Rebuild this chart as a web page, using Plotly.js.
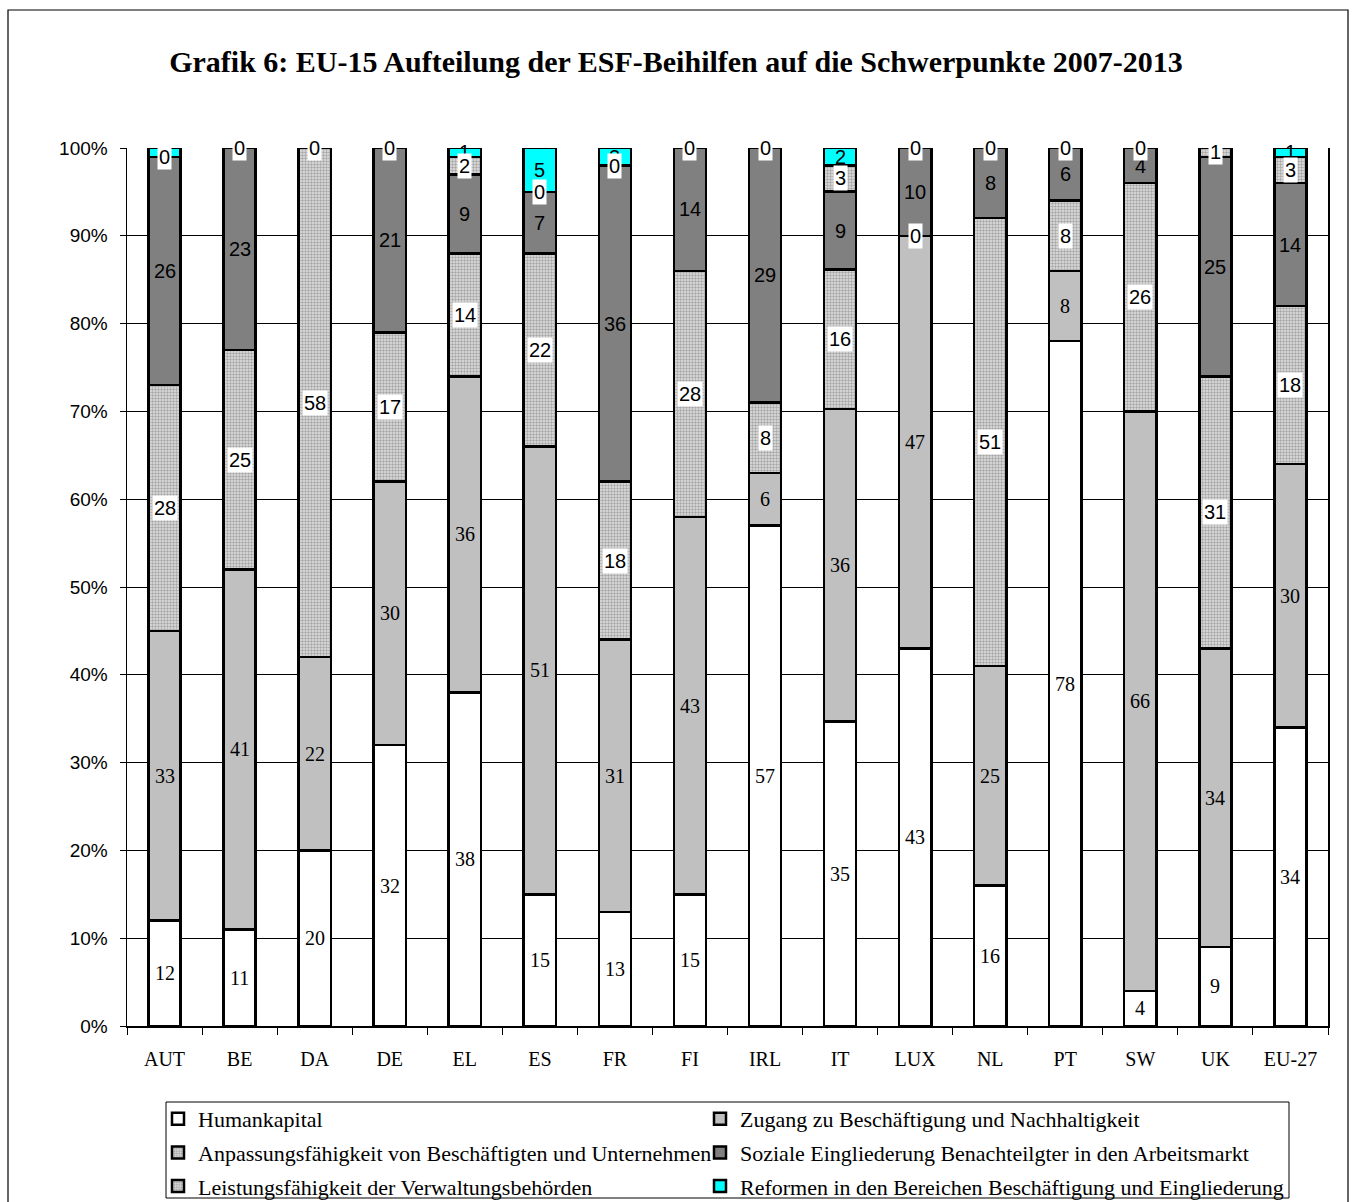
<!DOCTYPE html>
<html>
<head>
<meta charset="utf-8">
<script src="https://cdn.plot.ly/plotly-3.0.1.min.js"></script>
<style>
  body { margin: 0; background: #fff; }
  #chart { width: 1352px; height: 1202px; }
</style>
</head>
<body>
<div id="chart"></div>
<script>
// Mitgliedstaaten
const countries = ['AUT', 'BE', 'DA', 'DE', 'EL', 'ES', 'FR', 'FI', 'IRL', 'IT', 'LUX', 'NL', 'PT', 'SW', 'UK', 'EU-27'];

// Anteile der ESF-Beihilfen je Schwerpunkt (%)
const humankapital = [12, 11, 20, 32, 38, 15, 13, 15, 57, 35, 43, 16, 78, 4, 9, 34];
const zugang       = [33, 41, 22, 30, 36, 51, 31, 43, 6, 36, 47, 25, 8, 66, 34, 30];
const anpassung    = [28, 25, 58, 17, 14, 22, 18, 28, 8, 16, 0, 51, 8, 26, 31, 18];
const soziale      = [26, 23, 0, 21, 9, 7, 36, 14, 29, 9, 10, 8, 6, 4, 25, 14];
const verwaltung   = [0, 0, 0, 0, 2, 0, 0, 0, 0, 3, 0, 0, 0, 0, 1, 3];
const reformen     = [1, 0, 0, 0, 1, 5, 2, 0, 0, 2, 0, 0, 0, 0, 0, 1];

const seriesNames = [
  'Humankapital',
  'Zugang zu Beschäftigung und Nachhaltigkeit',
  'Anpassungsfähigkeit von Beschäftigten und Unternehmen',
  'Soziale Eingliederung Benachteilgter in den Arbeitsmarkt',
  'Leistungsfähigkeit der Verwaltungsbehörden',
  'Reformen in den Bereichen Beschäftigung und Eingliederung'
];
const seriesValues = [humankapital, zugang, anpassung, soziale, verwaltung, reformen];

// Darstellung
const SERIF = '"Liberation Serif", "Times New Roman", serif';
const SANS = '"Liberation Sans", Arial, sans-serif';
const hatch = { shape: '.', fgcolor: '#a6a6a6', bgcolor: '#e2e2e2', size: 3, solidity: 0.5, fillmode: 'replace' };
// Legende in zwei Spalten: links Schwerpunkte 1, 3, 5 – rechts 2, 4, 6
const styles = [
  { color: '#ffffff', pattern: null,  labelFont: SERIF, labelBg: null,      legend: 'legend' },
  { color: '#c0c0c0', pattern: null,  labelFont: SERIF, labelBg: null,      legend: 'legend2' },
  { color: '#d4d4d4', pattern: hatch, labelFont: SANS,  labelBg: '#ffffff', legend: 'legend' },
  { color: '#808080', pattern: null,  labelFont: SANS,  labelBg: null,      legend: 'legend2' },
  { color: '#d4d4d4', pattern: hatch, labelFont: SANS,  labelBg: '#ffffff', legend: 'legend' },
  { color: '#00ffff', pattern: null,  labelFont: SANS,  labelBg: null,      legend: 'legend2' }
];

// Seitengeometrie (Pixel)
const W = 1352, H = 1202;
const M = { l: 127, r: 24, t: 148, b: 176, autoexpand: false };
const plotW = W - M.l - M.r, plotH = H - M.t - M.b;
const xp = px => (px - M.l) / plotW;
const yp = py => (H - M.b - py) / plotH;

const traces = seriesNames.map((name, s) => {
  const marker = { color: styles[s].color, line: { color: '#000000', width: 2.5 } };
  if (styles[s].pattern) marker.pattern = styles[s].pattern;
  return {
    type: 'bar',
    name: name,
    x: countries,
    y: seriesValues[s],
    marker: marker,
    legend: styles[s].legend,
    legendgroup: 'g' + s,
    hoverinfo: 'x+y+name'
  };
});

// Wertbeschriftungen in der Mitte jedes Segments (normiert wie die Balken)
const totals = countries.map((_, i) => seriesValues.reduce((a, arr) => a + arr[i], 0));
const labelsPlain = [], labelsBoxed = [];
const cum = countries.map(() => 0);
seriesValues.forEach((arr, s) => {
  arr.forEach((v, i) => {
    const mid = (cum[i] + v / 2) / totals[i] * 100;
    cum[i] += v;
    const st = styles[s];
    const ann = {
      x: countries[i], y: mid, xref: 'x', yref: 'y',
      text: String(v), showarrow: false,
      font: { family: st.labelFont, size: 20, color: '#000000' },
      borderpad: 1
    };
    if (st.labelBg) { ann.bgcolor = st.labelBg; labelsBoxed.push(ann); }
    else labelsPlain.push(ann);
  });
});

const legendCommon = {
  orientation: 'v',
  xanchor: 'left',
  y: yp(1098), yanchor: 'top',
  traceorder: 'grouped',
  tracegroupgap: 2,
  font: { family: SERIF, size: 22, color: '#000000' },
  bgcolor: 'rgba(0,0,0,0)',
  borderwidth: 0
};

const layout = {
  width: W, height: H,
  margin: M,
  paper_bgcolor: '#ffffff',
  plot_bgcolor: '#ffffff',
  barmode: 'stack',
  barnorm: 'percent',
  bargap: 0.57,
  showlegend: true,
  title: {
    text: '<b>Grafik 6: EU-15 Aufteilung der ESF-Beihilfen auf die Schwerpunkte 2007-2013</b>',
    font: { family: SERIF, size: 30, color: '#000000' },
    x: 0.5, xanchor: 'center',
    y: 1 - 61 / H, yref: 'container', yanchor: 'middle'
  },
  xaxis: {
    type: 'category',
    tickson: 'boundaries',
    ticks: 'outside', ticklen: 7, tickwidth: 1, tickcolor: '#000000',
    showline: true, linecolor: '#000000', linewidth: 1.5,
    showgrid: false,
    tickfont: { family: SERIF, size: 20, color: '#000000' },
    ticklabelstandoff: 14
  },
  yaxis: {
    range: [0, 100],
    dtick: 10,
    ticksuffix: '%',
    ticks: 'outside', ticklen: 6, tickwidth: 1, tickcolor: '#000000',
    showline: true, linecolor: '#000000', linewidth: 1.5, mirror: true,
    showgrid: true, gridcolor: '#000000', gridwidth: 1,
    zeroline: false,
    tickfont: { family: SANS, size: 19, color: '#000000' },
    ticklabelstandoff: 8
  },
  legend: Object.assign({}, legendCommon, { x: xp(158) }),
  legend2: Object.assign({}, legendCommon, { x: xp(700) }),
  annotations: labelsPlain.concat(labelsBoxed),
  shapes: [
    // äußerer Rahmen
    { type: 'rect', xref: 'paper', yref: 'paper',
      x0: xp(8), x1: xp(1348), y0: yp(1210), y1: yp(10),
      line: { color: '#000000', width: 1.2 }, fillcolor: 'rgba(0,0,0,0)' },
    // Legendenrahmen
    { type: 'rect', xref: 'paper', yref: 'paper',
      x0: xp(166), x1: xp(1289), y0: yp(1198), y1: yp(1102),
      line: { color: '#000000', width: 1 }, fillcolor: 'rgba(0,0,0,0)' }
  ]
};

Plotly.newPlot('chart', traces, layout, { displayModeBar: false, staticPlot: true });
</script>
</body>
</html>
